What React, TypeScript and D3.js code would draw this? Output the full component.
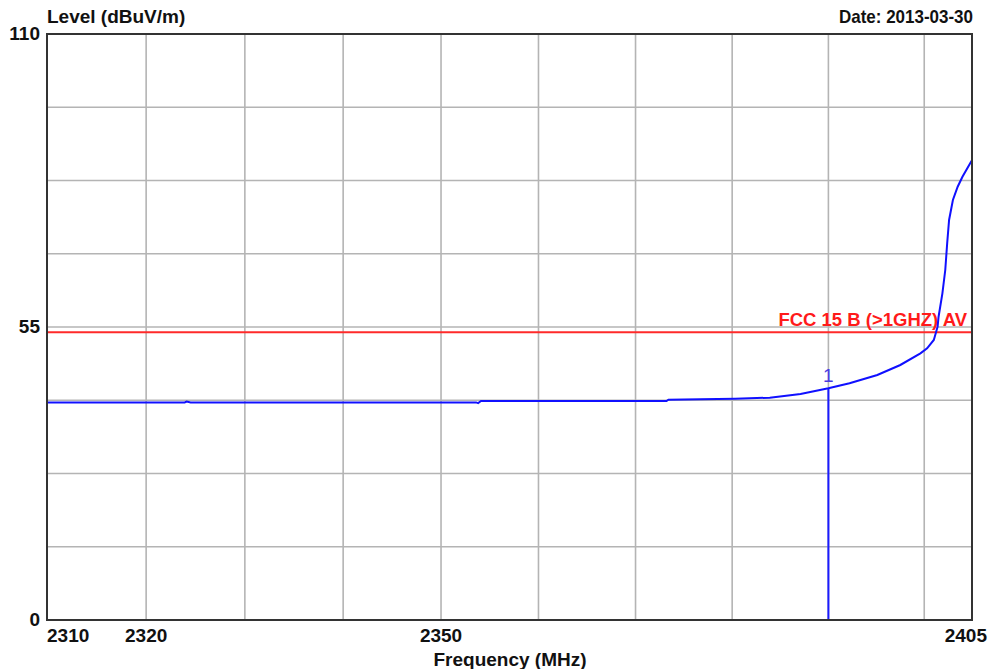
import React, { useEffect, useRef } from 'react';
import * as d3 from 'd3';

// trace readings (MHz, dBuV/m)
const freqs = [
  2310, 2323.9, 2324.1, 2324.5, 2353.6, 2353.8, 2354.1, 2373.2, 2373.4,
  2376.7, 2380.3, 2383.9, 2387.1, 2390.0, 2392.2, 2395.1, 2397.5, 2399.6, 2400.3,
  2401.0, 2401.1, 2401.4, 2401.5, 2401.9, 2402.2, 2402.4, 2402.6, 2403.0, 2403.5,
  2404.0, 2404.9, 2405,
];
const levels = [
  40.83, 40.83, 41.0, 40.83, 40.85, 40.72, 41.1, 41.1, 41.35,
  41.43, 41.54, 41.73, 42.42, 43.49, 44.43, 45.99, 47.87, 50.06, 51.0,
  52.56, 53.18, 55.06, 56.93, 61.32, 65.7, 70.71, 75.09, 78.84, 81.33,
  83.21, 86.03, 86.3,
];

const xTicks = [2310, 2320, 2350, 2405];
const xGrid = [2320, 2330, 2340, 2350, 2360, 2370, 2380, 2390, 2400];
const yTicks = [0, 55, 110];
const yGrid = [13.75, 27.5, 41.25, 55, 68.75, 82.5, 96.25];
const limitLevel = 54;
const limitLabel = 'FCC 15 B (>1GHZ) AV';
const markerFreq = 2390;
const markerLevel = 43.49;

export default function App() {
  const ref = useRef<SVGSVGElement>(null);

  useEffect(() => {
    if (!ref.current) return;
    const svg = d3.select(ref.current);
    svg.selectAll('*').remove();

    const left = 47, right = 972, top = 34, bottom = 620;
    const x = d3.scaleLog().domain([2310, 2405]).range([left, right]);
    const y = d3.scaleLinear().domain([0, 110]).range([bottom, top]);
    const font = 'Liberation Sans, Arial, sans-serif';

    svg.append('rect').attr('width', 992).attr('height', 669).attr('fill', '#fff');

    const g = svg.append('g');

    g.selectAll('line.vg')
      .data(xGrid)
      .join('line')
      .attr('x1', d => x(d)).attr('x2', d => x(d))
      .attr('y1', top).attr('y2', bottom)
      .attr('stroke', '#b4b4b4').attr('stroke-width', 1.6);

    g.selectAll('line.hg')
      .data(yGrid)
      .join('line')
      .attr('x1', left).attr('x2', right)
      .attr('y1', d => y(d)).attr('y2', d => y(d))
      .attr('stroke', '#b4b4b4').attr('stroke-width', 1.6);

    // limit line
    g.append('line')
      .attr('x1', left).attr('x2', right)
      .attr('y1', y(limitLevel)).attr('y2', y(limitLevel))
      .attr('stroke', '#ff2a2a').attr('stroke-width', 2);

    g.append('text')
      .attr('x', 967).attr('y', y(limitLevel) - 6)
      .attr('text-anchor', 'end')
      .attr('font-family', font).attr('font-weight', 'bold').attr('font-size', 18.5)
      .attr('fill', '#ff1a1a')
      .text(limitLabel);

    // marker
    g.append('line')
      .attr('x1', x(markerFreq)).attr('x2', x(markerFreq))
      .attr('y1', y(markerLevel)).attr('y2', bottom)
      .attr('stroke', '#1a1aff').attr('stroke-width', 2);
    g.append('text')
      .attr('x', x(markerFreq)).attr('y', y(markerLevel) - 6)
      .attr('text-anchor', 'middle')
      .attr('font-family', font).attr('font-size', 19)
      .attr('fill', '#4a3ae0')
      .text('1');

    const line = d3.line<number>()
      .x((_, i) => x(freqs[i]))
      .y(d => y(d));
    g.append('path')
      .datum(levels)
      .attr('d', line)
      .attr('fill', 'none')
      .attr('stroke', '#1010ff')
      .attr('stroke-width', 2);

    // frame
    g.append('rect')
      .attr('x', left).attr('y', top)
      .attr('width', right - left).attr('height', bottom - top)
      .attr('fill', 'none').attr('stroke', '#333').attr('stroke-width', 2);

    const txt = svg.append('g')
      .attr('font-family', font).attr('font-weight', 'bold').attr('font-size', 19)
      .attr('fill', '#111');

    txt.selectAll('text.yt')
      .data(yTicks)
      .join('text')
      .attr('x', 40)
      .attr('y', d => y(d) + 6)
      .attr('text-anchor', 'end')
      .text(d => String(d));

    txt.selectAll('text.xt')
      .data(xTicks)
      .join('text')
      .attr('x', d => d === 2310 ? left : d === 2405 ? 987 : x(d))
      .attr('y', 642)
      .attr('text-anchor', d => d === 2310 ? 'start' : d === 2405 ? 'end' : 'middle')
      .text(d => String(d));

    txt.append('text').attr('x', 47).attr('y', 23).text('Level (dBuV/m)');
    txt.append('text')
      .attr('x', 839).attr('y', 23)
      .attr('textLength', 134).attr('lengthAdjust', 'spacingAndGlyphs')
      .text('Date: 2013-03-30');
    txt.append('text').attr('x', 510).attr('y', 666).attr('text-anchor', 'middle').text('Frequency (MHz)');
  }, []);

  return (
    <svg
      ref={ref}
      width={992}
      height={669}
      viewBox="0 0 992 669"
      style={{ position: 'absolute', left: 0, top: 0, display: 'block' }}
    />
  );
}
